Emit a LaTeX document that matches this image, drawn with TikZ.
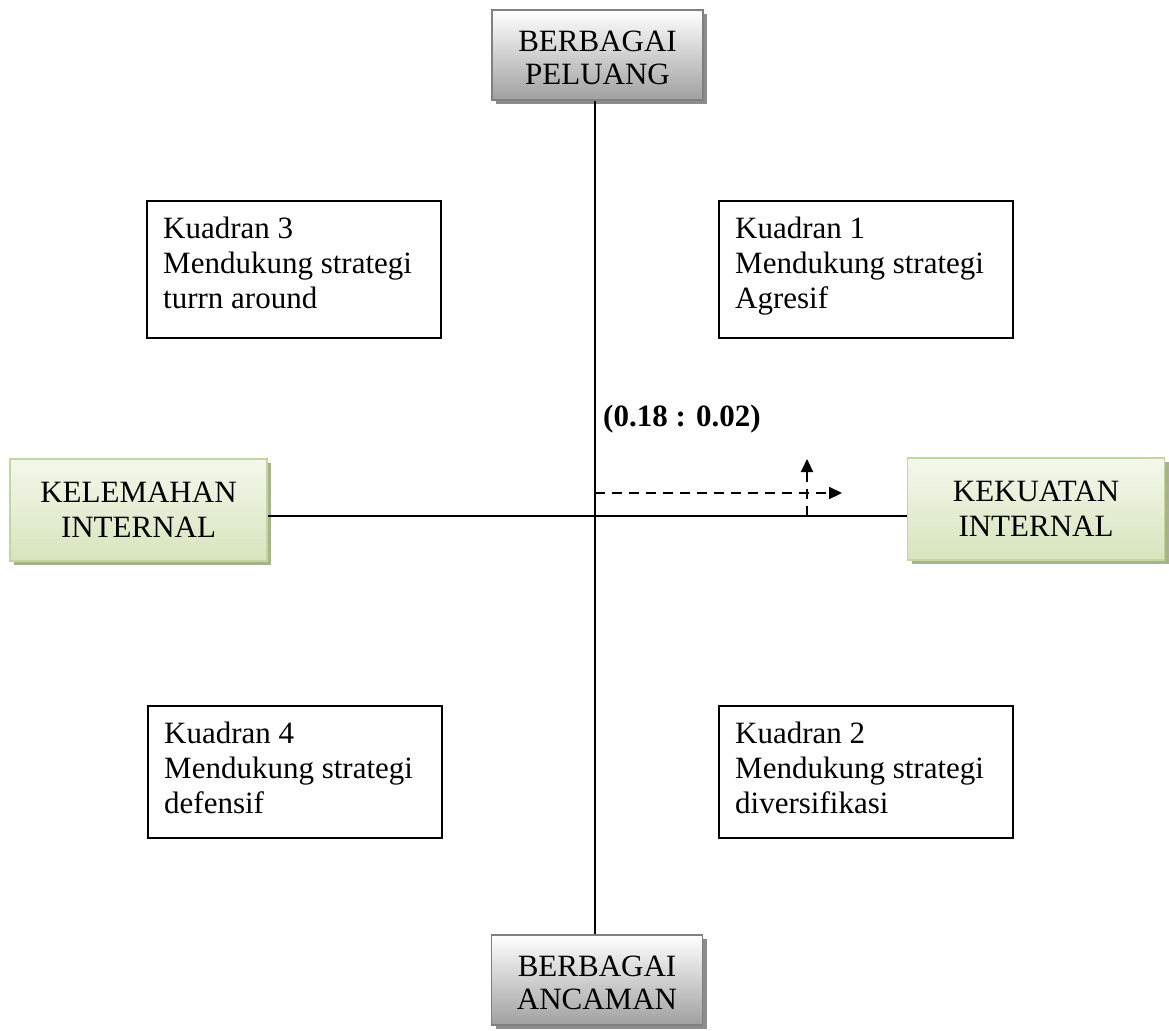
\documentclass[tikz,border=0pt]{standalone}
\usepackage{fontspec}
\setmainfont{Liberation Serif}
\usetikzlibrary{arrows.meta,shadows}
\definecolor{grayborder}{HTML}{808080}
\definecolor{graybot}{HTML}{A0A0A0}
\definecolor{grayshadow}{HTML}{8C8C8C}
\definecolor{greenborder}{HTML}{C3D69B}
\definecolor{greentop}{HTML}{F4F8EC}
\definecolor{greenbot}{HTML}{D7E4BD}
\definecolor{greenshadow}{HTML}{A8B38E}
\begin{document}
\begin{tikzpicture}[x=1pt,y=-1pt,
  lbl/.style={font=\fontsize{31}{35}\selectfont, align=center, inner sep=0pt},
  graylbl/.style={font=\fontsize{31}{33}\selectfont, align=center, inner sep=0pt, yshift=-3pt},
  graybox/.style={draw=grayborder, line width=1.6pt, top color=white, bottom color=graybot,
    minimum width=211pt, minimum height=90pt, inner sep=0pt,
    drop shadow={shadow xshift=4pt, shadow yshift=-4pt, fill=grayshadow, opacity=1}},
  greenbox/.style={lbl, draw=greenborder, line width=1.6pt, top color=greentop, bottom color=greenbot,
    minimum width=257pt, minimum height=102pt,
    drop shadow={shadow xshift=4pt, shadow yshift=-4pt, fill=greenshadow, opacity=1}},
  quadbox/.style={draw=black, line width=2pt, anchor=north west, inner sep=0pt,
    minimum width=294pt, minimum height=#1},
  quadtext/.style={font=\fontsize{31}{35}\selectfont, align=left, anchor=north west, inner sep=0pt},
  axisline/.style={line width=1.8pt},
  dashline/.style={line width=2.2pt, dash pattern=on 10pt off 7pt,
    -{Triangle[length=13pt,width=12pt]}}]
\useasboundingbox (0,0) rectangle (1169,1030);
% axis boxes
\node[graybox, label={[graylbl]center:BERBAGAI\\PELUANG}] (peluang) at (597.5,55) {};
\node[graybox, label={[graylbl]center:BERBAGAI\\ANCAMAN}] (ancaman) at (597,980) {};
\node[greenbox] (kelemahan) at (138.5,510) {KELEMAHAN\\INTERNAL};
\node[greenbox] (kekuatan) at (1036,509) {KEKUATAN\\INTERNAL};
% origin
\coordinate (o) at (595,516);
\draw[axisline] (peluang.south -| o) -- (ancaman.north -| o);
\draw[axisline] (kelemahan.east |- o) -- (kekuatan.west |- o);
% quadrant boxes
\node[quadbox=137pt] (q3) at (146,200) {};
\node[quadtext] (q3t) at (163,217) {Kuadran 3\\Mendukung strategi\\turrn around};
\node[quadbox=137pt] (q1) at (718,200) {};
\node[quadtext] (q1t) at (735,217) {Kuadran 1\\Mendukung strategi\\Agresif};
\node[quadbox=132pt] (q4) at (147,705) {};
\node[quadtext] (q4t) at (164,722) {Kuadran 4\\Mendukung strategi\\defensif};
\node[quadbox=132pt] (q2) at (718,705) {};
\node[quadtext] (q2t) at (735,722) {Kuadran 2\\Mendukung strategi\\diversifikasi};
% point label
\node[font=\fontsize{31}{35}\selectfont\bfseries, anchor=base west, inner sep=0pt] (pt) at (603,426) {(0.18 : 0.02)};
% dashed arrows
\coordinate (hs) at (595,493);
\coordinate (he) at (842,493);
\coordinate (vs) at (807,516);
\coordinate (ve) at (807,459);
\draw[dashline] (hs) -- (he);
\draw[dashline] (vs) -- (ve);
\end{tikzpicture}
\end{document}
